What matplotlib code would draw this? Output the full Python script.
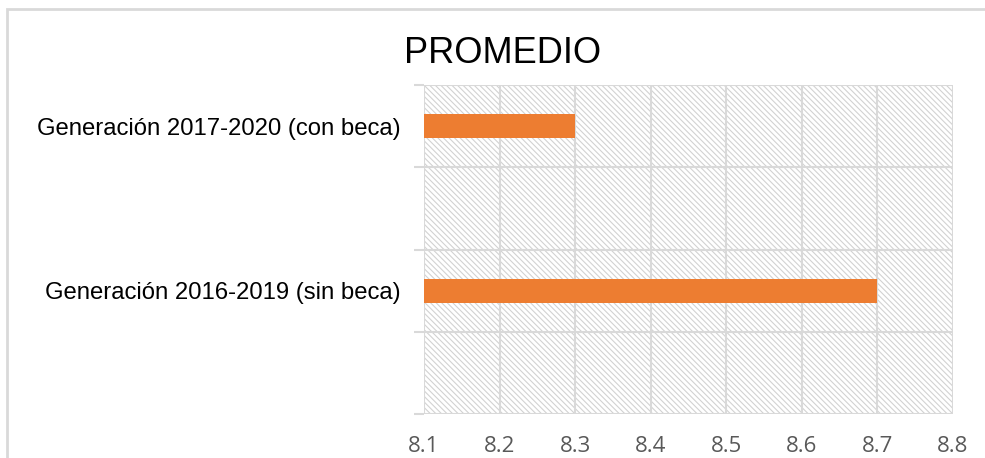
import matplotlib.pyplot as plt
import matplotlib.patches as mpatches
import numpy as np

# Datos del gráfico (4 ranuras, dos vacías como en el original)
categorias = ["Generación 2017-2020 (con beca)", "", "Generación 2016-2019 (sin beca)", ""]
promedios = [8.3, np.nan, 8.7, np.nan]
xticks = [8.1, 8.2, 8.3, 8.4, 8.5, 8.6, 8.7, 8.8]

plt.rcParams['hatch.linewidth'] = 0.8

fig = plt.figure(figsize=(9.85, 4.58), dpi=100)
ax = fig.add_axes([424 / 985, 1 - 414 / 458, 529 / 985, 329 / 458])

# borde del gráfico
fig.patches.append(mpatches.Rectangle((7 / 985, -0.1), 1.2, 1 - 8.5 / 458 + 0.1,
                                      transform=fig.transFigure, fill=False,
                                      edgecolor='#d9d9d9', linewidth=2))

n = len(categorias)
pos = np.arange(n)

# fondo rayado
ax.add_patch(mpatches.Rectangle((0, 0), 1, 1, transform=ax.transAxes,
                                facecolor='white', edgecolor='#d2d2d2', linewidth=0,
                                hatch='\\' * 6, zorder=0))

validos = ~np.isnan(promedios)
ax.barh(pos[validos], np.array(promedios)[validos] - 8.1,
        left=8.1, height=0.29, color='#ED7D31', zorder=3)

ax.set_xlim(8.1, 8.8)
ax.set_ylim(n - 0.5, -0.5)
ax.set_xticks(xticks)
ax.set_xticklabels([f"{t:.1f}" for t in xticks], family='Open Sans',
                   fontsize=16, color='#595959')
ax.tick_params(axis='x', length=0, pad=16)

# líneas de separación y etiquetas
ax.set_yticks(np.arange(-0.5, n, 1))
ax.set_yticklabels([])
ax.tick_params(axis='y', which='major', length=7, color='#d9d9d9', width=1.5)
ax.set_yticks(pos, minor=True)
ax.set_yticklabels(categorias, minor=True, family='Liberation Sans', fontsize=17.2,
                   color='black')
ax.tick_params(axis='y', which='minor', length=0, pad=17)

ax.grid(True, which='major', color='#d9d9d9', linewidth=1.5, zorder=1)
ax.set_axisbelow(True)
for s in ax.spines.values():
    s.set_visible(False)
ax.set_facecolor('none')

fig.text(503 / 985, 1 - 49.5 / 458, "PROMEDIO", ha='center', va='center_baseline',
         fontsize=26, family='Liberation Sans')

fig.savefig('out.png', dpi=100)
